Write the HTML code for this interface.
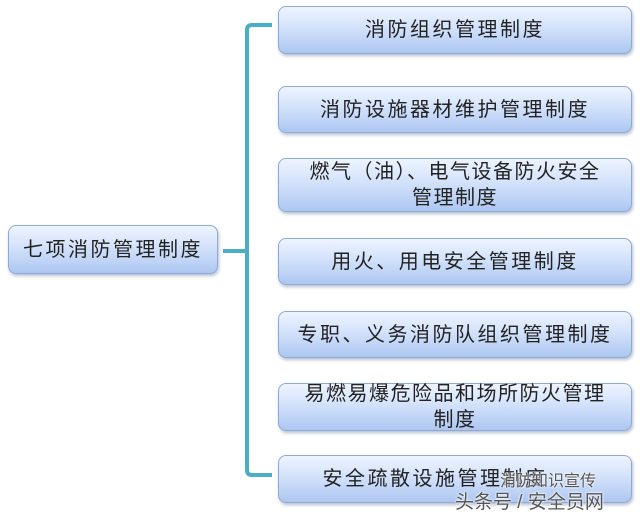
<!DOCTYPE html>
<html><head><meta charset="utf-8"><style>
html,body{margin:0;padding:0;background:#fff;width:640px;height:513px;overflow:hidden;}
.b{position:absolute;box-sizing:border-box;border:1.5px solid #8fa9d6;border-radius:8px;
background:linear-gradient(#eef4ff 0%,#d3e2fb 45%,#adc7f2 100%);
box-shadow:1px 2px 3px rgba(90,110,150,.45);
font-family:"Liberation Sans","Noto Sans CJK SC",sans-serif;font-size:20px;color:#222;
display:flex;align-items:center;justify-content:center;text-align:center;line-height:26px;letter-spacing:2.5px;}
.r{left:278px;width:354px;}
.wm{position:absolute;font-family:"Liberation Sans","Noto Sans CJK SC",sans-serif;color:#555;text-shadow:0 0 2px #fff,0 0 2px #fff;}
</style></head><body>
<svg width="640" height="513" style="position:absolute;left:0;top:0">
<path d="M272 25 L252 25 Q247 25 247 30 L247 470 Q247 475 252 475 L272 475" fill="none" stroke="#4aaec8" stroke-width="4"/>
<path d="M223 251 L247 251" stroke="#4aaec8" stroke-width="4"/>
</svg>
<div class="b" style="left:8px;top:225px;width:210px;height:49px;">七项消防管理制度</div>
<div class="b r" style="top:6px;height:48px;">消防组织管理制度</div>
<div class="b r" style="top:86px;height:47px;">消防设施器材维护管理制度</div>
<div class="b r" style="top:158px;height:54px;letter-spacing:1.5px;">燃气（油）、电气设备防火安全<br>管理制度</div>
<div class="b r" style="top:238px;height:47px;">用火、用电安全管理制度</div>
<div class="b r" style="top:311px;height:47px;">专职、义务消防队组织管理制度</div>
<div class="b r" style="top:383px;height:48px;letter-spacing:1.5px;">易燃易爆危险品和场所防火管理<br>制度</div>
<div class="b r" style="top:455px;height:48px;padding-right:40px;">安全疏散设施管理制度</div>
<div class="wm" style="left:500px;top:467px;font-size:16px;">消防知识宣传</div>
<div class="wm" style="left:455px;top:487px;font-size:19px;">头条号 / 安全员网</div>
</body></html>
